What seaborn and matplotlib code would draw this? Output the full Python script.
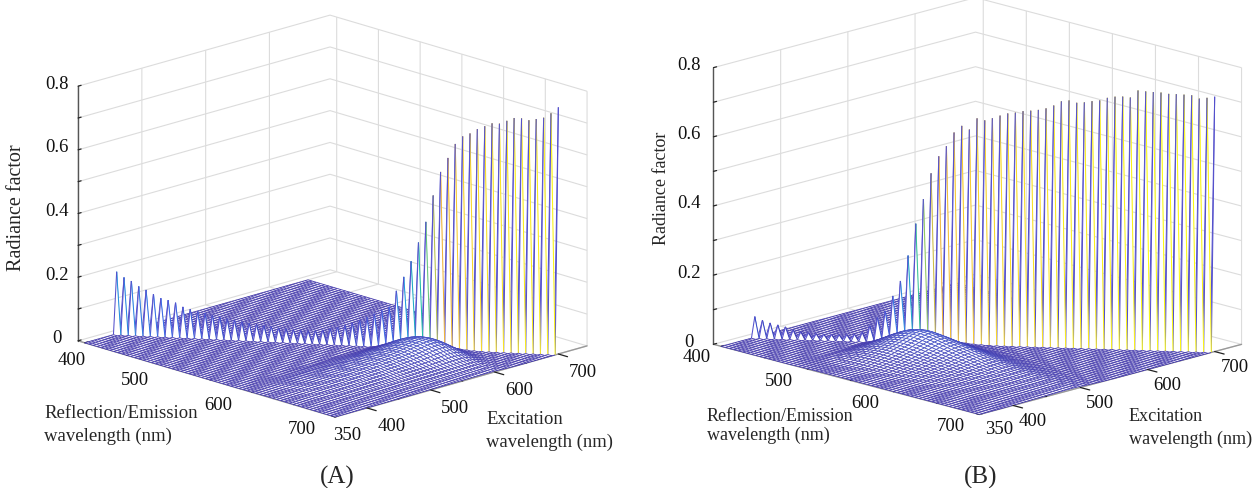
import numpy as np
import matplotlib
matplotlib.use("Agg")
import matplotlib.pyplot as plt
from matplotlib.colors import to_rgba
import seaborn as sns
from mpl_toolkits.mplot3d import proj3d
from mpl_toolkits.mplot3d.art3d import Poly3DCollection

# wavelength grids (nm), 5 nm steps
emission_nm = np.arange(400, 705, 5)
excitation_nm = np.arange(350, 705, 5)

# reflectance spike on the diagonal, excitation = emission = 400..700 nm
diag_a = [.195, .178, .168, .152, .142, .13, .118, .113, .106, .094, .088, .082, .078, .072, .068, .063,
          .06, .056, .052, .05, .047, .045, .042, .04, .038, .037, .037, .038, .042, .047, .053, .06,
          .068, .077, .088, .1, .112, .124, .175, .22, .27, .33, .396, .48, .555, .6, .645, .67, .68,
          .695, .705, .715, .715, .725, .735, .735, .73, .735, .74, .755, .775]
diag_b = [.06, .05, .043, .038, .033, .025, .02, .018, .016, .015, .015, .015, .016, .018, .024, .044,
          .068, .088, .132, .176, .25, .343, .415, .49, .54, .57, .61, .63, .62, .653, .648, .655, .663,
          .67, .673, .678, .68, .683, .688, .697, .71, .713, .707, .709, .713, .716, .724, .728, .729,
          .727, .748, .746, .745, .744, .741, .741, .74, .739, .73, .733, .737]

# fluorescence hump: excitation band (350..700) and emission band (400..700)
exc_band_a = [.02, .02, .02, .03, .03, .04, .05, .06, .08, .1,
              .12, .14, .15, .17, .18, .2, .21, .23, .24, .26,
              .28, .3, .31, .33, .35, .37, .39, .41, .43, .45,
              .48, .5, .52, .55, .57, .6, .62, .65, .68, .71,
              .74, .78, .82, .86, .9, .94, .97, 1, 1, .98,
              .92, .82, .68, .5, .33, .2, .12, .07, .04, .02, .01] + [0] * 10
em_band_a = [0] * 36 + [.08, .22, .38, .54, .68, .8, .89, .95, .99, 1, .98, .93, .86, .78, .68, .58, .48, .39,
                        .31, .24, .18, .13, .1, .08, .06]
exc_band_b = [.03, .03, .04, .04, .05, .06, .07, .09, .11, .14, .18, .22, .26, .3, .34, .38, .43, .48, .53,
              .58, .63, .69, .75, .81, .87, .93, .97, 1, 1,
              .95, .85, .72, .58, .45, .33, .23, .15, .1, .06, .04, .02, .01, .005] + [0] * 28
em_band_b = [0] * 16 + [.08, .2, .35, .5, .63, .75, .85, .92, .97, 1, 1, .98, .95, .92, .88, .84, .8, .76, .72,
                        .68, .64, .6, .56, .52, .48, .44, .4, .37, .34, .31, .28, .26, .24, .22, .2, .18, .16,
                        .15, .13, .12, .11, .1, .09, .08, .07]
peak_a = 0.05
peak_b = 0.056

z_ticks = [0, .1, .2, .3, .4, .5, .6, .7, .8]
z_labelled = ["0", "0.2", "0.4", "0.6", "0.8"]
em_ticks = [400, 450, 500, 550, 600, 650, 700]
ex_ticks = [350, 450, 550, 650]
em_labelled = [400, 500, 600, 700]
ex_labelled = [350, 400, 500, 600, 700]

sns.set_theme(style="white")
plt.rcParams["font.family"] = ["Liberation Serif", "DejaVu Sans"]

cmap = sns.blend_palette(["#3a2fa8", "#3b68e6", "#1f9ddc", "#1fbfa8", "#9cc95a", "#f0b43c", "#f8d030", "#fafa14"],
                         as_cmap=True)
spike_blue = to_rgba("#5450cc")


def make_surface(diag, exc_band, em_band, peak):
    z = peak * np.outer(np.array(em_band), np.array(exc_band))
    for i, em in enumerate(emission_nm):
        for j, ex in enumerate(excitation_nm):
            if em < ex:
                z[i, j] = 0
            elif em == ex:
                z[i, j] = diag[i]
    return z


def mesh_items(z):
    # painter's order, far cells first; each edge takes the colour of its start vertex
    colors = cmap(z / z.max())
    verts, faces, edges, widths = [], [], [], []
    none = (1, 1, 1, 0)
    white = (1, 1, 1, 1)
    thin, thick = 0.58, 0.75
    x = emission_nm
    y = excitation_nm

    def add_line(i0, j0, i1, j1):
        p0 = (x[i0], y[j0], z[i0, j0])
        p1 = (x[i1], y[j1], z[i1, j1])
        verts.append([p0, p1, p1, p0])
        faces.append(none)
        edges.append(spike_blue if x[i1] == y[j1] else colors[i0, j0])
        widths.append(thick if x[i0] == y[j0] or x[i1] == y[j1] else thin)

    for j in range(len(y) - 2, -1, -1):
        for i in range(len(x) - 1):
            verts.append([(x[i], y[j], z[i, j]), (x[i + 1], y[j], z[i + 1, j]),
                          (x[i + 1], y[j + 1], z[i + 1, j + 1]), (x[i], y[j + 1], z[i, j + 1])])
            faces.append(white)
            edges.append(none)
            widths.append(0)
            add_line(i, j + 1, i + 1, j + 1)
            add_line(i, j, i, j + 1)
            if i == len(x) - 2:
                add_line(i + 1, j, i + 1, j + 1)
        if j == 0:
            for i in range(len(x) - 1):
                add_line(i, 0, i + 1, 0)
    return verts, faces, edges, widths


def draw_panel(rect, z, aspect, zoom, elev, azim, xlim, ylim, em_off, ex_off, z_off, em_special, ex_special):
    ax = fig.add_axes(rect, projection="3d", proj_type="ortho", computed_zorder=False)
    ax.patch.set_alpha(0)
    ax.view_init(elev=elev, azim=azim)
    ax.set_box_aspect(aspect, zoom=zoom)
    verts, faces, edges, widths = mesh_items(z)
    mesh = Poly3DCollection(verts, facecolors=faces, edgecolors=edges, linewidths=widths)
    # keep my own back-to-front order instead of the depth sort
    mesh._zsortfunc = lambda zs: 0
    ax.add_collection3d(mesh)
    ax.set_xlim(*xlim)
    ax.set_ylim(*ylim)
    ax.set_zlim(0, 0.8)
    ax.set_xticks(em_ticks, [""] * len(em_ticks))
    ax.set_yticks(ex_ticks, [""] * len(ex_ticks))
    ax.set_zticks(z_ticks, [""] * len(z_ticks))
    ax.zaxis.set_ticks_position("lower")
    for axis in (ax.xaxis, ax.yaxis, ax.zaxis):
        axis.set_pane_color((1, 1, 1, 0))
        axis.pane.set_edgecolor("#dddddd")
        axis.line.set_color("#999999")
        axis.line.set_linewidth(1.0)
        axis._axinfo["grid"].update(color="#dcdcdc", linewidth=0.8)
        axis._axinfo["tick"].update(inward_factor=0, outward_factor=0.15, linewidth={True: 0.9, False: 0.5},
                                    color="#888888")
        # tick labels are placed by hand below, as in the original figure
        for tick in axis.get_major_ticks():
            tick.label1.set_visible(False)
            tick.label2.set_visible(False)
        axis.offsetText.set_visible(False)
        axis.label.set_visible(False)
    ax.zaxis.line.set_color("#555555")
    ax.grid(True)
    # the labelled excitation ticks are dark and longer, off the regular tick grid
    for ex in ex_labelled[1:]:
        ax.plot([700, 711], [ex, ex], [0, 0], color="#222222", lw=0.9, zorder=5)

    def put_label(x, y, zval, label):
        px, py, _ = proj3d.proj_transform(x, y, zval, ax.get_proj())
        ax.text2D(px, py, label, transform=ax.transData, ha="center", va="center", fontsize=13.5, color="#111111")

    for em in em_labelled:
        d, dz = em_special.get(em, em_off)
        put_label(em, 350 - d, -dz, str(em))
    for ex in ex_labelled:
        d, dz = ex_special.get(ex, ex_off)
        put_label(700 + d, ex, -dz, str(ex))
    for label in z_labelled:
        put_label(xlim[0], 350 - z_off[0], float(label) + z_off[1], label)
    return ax


fig = plt.figure(figsize=(12.58, 4.89), dpi=100)
W, H = 1258.0, 489.0

z_a = make_surface(diag_a, exc_band_a, em_band_a, peak_a)
z_b = make_surface(diag_b, exc_band_b, em_band_b, peak_b)

draw_panel([45 / W, -15.6 / H, 560 / W, 560 / H], z_a, (368, 352, 266), 0.996, 16.8, -44.3, (392, 700), (350, 745),
           (52, 0.008), (29, 0.032), (33, 0.028), {400: (20, 0.04)}, {350: (14.4, 0.045)})
draw_panel([684.8 / W, -10.7 / H, 570 / W, 570 / H], z_b, (375, 372, 287), 1.0236, 15.4, -45.2, (391, 700), (350, 740),
           (42, 0.01), (23, 0.027), (37, 0.028), {400: (36, 0.012)}, {})

fig.text(17 / W, 1 - 208 / H, "Radiance factor", rotation=90, ha="center", va="center", fontsize=14.5)
fig.text(661 / W, 1 - 188 / H, "Radiance factor", rotation=90, ha="center", va="center", fontsize=13)
fig.text(44 / W, 1 - 425 / H, "Reflection/Emission\nwavelength (nm)", ha="left", va="center", fontsize=13.5,
         linespacing=1.45)
fig.text(707 / W, 1 - 426 / H, "Reflection/Emission\nwavelength (nm)", ha="left", va="center", fontsize=13,
         linespacing=1.2)
fig.text(486 / W, 1 - 431 / H, "Excitation\nwavelength (nm)", ha="left", va="center", fontsize=13.4, linespacing=1.45)
fig.text(1129 / W, 1 - 428 / H, "Excitation\nwavelength (nm)", ha="left", va="center", fontsize=13.1, linespacing=1.4)
fig.text(337 / W, 1 - 477 / H, "(A)", ha="center", va="center", fontsize=18)
fig.text(981 / W, 1 - 477 / H, "(B)", ha="center", va="center", fontsize=18)

fig.savefig("out.png", dpi=100)
